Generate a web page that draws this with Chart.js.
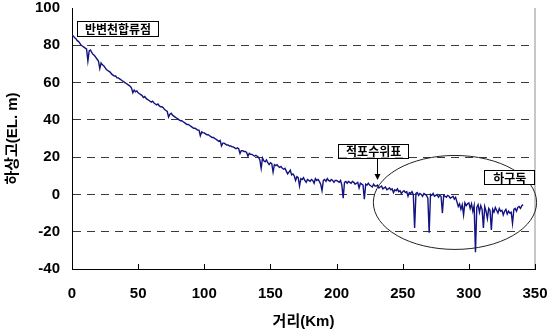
<!DOCTYPE html>
<html>
<head>
<meta charset="utf-8">
<script src="https://cdn.jsdelivr.net/npm/chart.js@4.4.1/dist/chart.umd.min.js"></script>
<style>
  html, body { margin: 0; padding: 0; background: #fff; }
  #wrap { width: 549px; height: 333px; }
</style>
</head>
<body>
<div id="wrap"><canvas id="profile"></canvas></div>
<script>
// 하상고 (EL. m), one reading per km from 0 km to 341 km
const bedElevation = [
  85.5, 85.0, 84.0, 83.5, 82.5, 82.0, 81.0, 80.0, 79.5, 79.0,
  78.5, 78.0, 71.5, 77.0, 77.5, 76.0, 75.0, 74.5, 73.5, 72.5,
  71.5, 67.5, 70.5, 69.5, 69.0, 68.0, 67.0, 66.5, 66.0, 65.5,
  64.5, 64.0, 63.5, 63.5, 62.5, 62.5, 62.0, 61.5, 61.0, 60.5,
  60.0, 59.5, 59.0, 58.5, 58.0, 57.0, 54.5, 56.0, 55.0, 55.5,
  54.5, 54.0, 53.5, 53.0, 52.0, 52.5, 51.5, 51.0, 50.5, 50.0,
  49.5, 50.0, 49.0, 48.5, 48.0, 48.5, 47.5, 47.0, 47.0, 46.5,
  45.5, 45.0, 44.5, 41.5, 43.0, 43.5, 42.5, 42.0, 41.5, 41.0,
  40.5, 40.0, 39.5, 39.5, 39.0, 38.5, 38.0, 37.5, 37.5, 37.0,
  36.5, 36.0, 35.5, 35.5, 35.0, 34.5, 34.5, 31.5, 33.5, 33.0,
  33.0, 32.5, 32.0, 32.0, 31.5, 31.0, 30.5, 30.5, 30.0, 29.5,
  29.0, 28.5, 29.0, 26.0, 27.5, 27.5, 27.0, 26.5, 26.5, 26.0,
  26.0, 25.5, 25.5, 25.0, 24.5, 25.0, 24.5, 22.0, 23.5, 23.5,
  23.0, 23.0, 22.5, 20.5, 22.0, 21.5, 21.5, 21.0, 20.5, 21.0,
  20.5, 20.0, 18.5, 14.0, 19.5, 18.0, 17.5, 18.5, 17.0, 16.0,
  17.0, 16.5, 12.0, 16.0, 15.5, 16.0, 15.0, 14.5, 15.0, 14.0,
  13.5, 14.0, 12.5, 11.0, 12.0, 13.0, 10.5, 11.0, 10.0, 7.5,
  9.5, 9.0, 4.5, 8.5, 8.0, 9.0, 7.5, 6.5, 8.0, 7.5,
  7.0, 8.0, 7.5, 6.0, 8.5, 7.5, 8.0, 7.0, 5.5, 2.0,
  7.5, 8.0, 7.0, 8.5, 7.5, 7.0, 8.0, 7.5, 6.5, 7.5,
  7.5, 7.0, 6.5, 7.5, 5.0, -2.0, 6.5, 7.0, 6.0, 7.0,
  6.5, 6.0, 7.0, 6.5, 5.5, 6.0, 6.5, 3.5, 6.0, 5.5,
  5.0, -2.5, 5.5, 5.0, 6.0, 5.0, 4.5, 4.0, 5.5, 4.5,
  4.5, 5.0, 3.5, 4.0, 4.5, 3.0, 3.5, 4.0, 2.5, 3.0,
  3.5, 2.5, 3.0, 1.0, 2.5, 2.0, 3.0, 1.5, 2.0, 0.5,
  1.5, 2.0, 1.0, 1.5, -1.0, 1.0, 0.5, 1.5, 0.0, -18.0,
  0.5, 1.0, -0.5, 0.5, 0.0, -1.0, 0.5, 0.0, -0.5, -2.0,
  -20.5, 0.0, -0.5, 0.5, -1.0, -0.5, 0.0, -1.5, -0.5, -1.0,
  -10.0, -0.5, -1.0, -1.5, -0.5, -1.0, -2.0, -1.5, -1.0, -2.5,
  -1.5, -4.0, -6.5, -5.0, -8.0, -5.5, -11.0, -4.5, -6.0, -5.0,
  -4.5, -7.5, -5.0, -9.0, -6.0, -31.0, -7.0, -5.5, -9.5, -6.0,
  -8.0, -18.0, -6.5, -9.0, -13.0, -7.5, -8.5, -19.0, -8.0, -9.5,
  -7.0, -8.5, -10.0, -7.5, -9.0, -8.5, -11.0, -9.0, -8.0, -10.5,
  -9.0, -10.0, -9.5, -15.5, -8.0, -7.5, -9.0, -7.0, -6.5, -7.5,
  -6.0, -5.5
];
const distanceKm = bedElevation.map((_, i) => i);

const xTitle = '거리(Km)';
const yTitle = '하상고(EL. m)';
const xRange = [0, 350];
const yRange = [-40, 100];

// callouts drawn on the chart
const labelJunction = '반변천합류점';
const labelGauge = '적포수위표';
const labelBarrage = '하구둑';

const FONT = "'Liberation Sans', Arial, 'Noto Sans CJK KR', sans-serif";
const KFONT = "'Noto Sans CJK KR', 'Liberation Sans', sans-serif";

function boxLabel(ctx, text, left, top, w, h) {
  ctx.fillStyle = '#fff';
  ctx.fillRect(left, top, w, h);
  ctx.strokeStyle = '#000';
  ctx.lineWidth = 1;
  ctx.strokeRect(Math.round(left) + 0.5, Math.round(top) + 0.5, w, h);
  ctx.fillStyle = '#000';
  ctx.font = 'bold 12px ' + KFONT;
  ctx.textAlign = 'center';
  ctx.textBaseline = 'middle';
  ctx.fillText(text, left + w / 2 + 0.5, top + h / 2 + 1);
}

const markup = {
  id: 'markup',
  afterDraw(chart) {
    const { ctx, chartArea: a, scales: { x, y } } = chart;
    ctx.save();

    // right frame
    ctx.strokeStyle = '#b4b4b4';
    ctx.lineWidth = 1.5;
    ctx.beginPath();
    ctx.moveTo(a.right, a.top);
    ctx.lineTo(a.right, a.bottom);
    ctx.stroke();

    // inward tick marks on the distance axis
    ctx.strokeStyle = '#000';
    ctx.lineWidth = 1;
    x.ticks.forEach(t => {
      const px = Math.round(x.getPixelForValue(t.value)) + 0.5;
      ctx.beginPath();
      ctx.moveTo(px, a.bottom);
      ctx.lineTo(px, a.bottom - 5);
      ctx.stroke();
    });

    // ellipse around the lower reach
    const cx = x.getPixelForValue(289.5), cy = y.getPixelForValue(-4.3);
    const rx = x.getPixelForValue(289.5 + 61.7) - cx;
    const ry = y.getPixelForValue(-4.3) - y.getPixelForValue(-4.3 + 25.2);
    ctx.strokeStyle = '#222';
    ctx.lineWidth = 1;
    ctx.beginPath();
    ctx.ellipse(cx, cy, rx, ry, 0, 0, Math.PI * 2);
    ctx.stroke();

    // gauge arrow
    const ax = Math.round(x.getPixelForValue(230.3)) + 0.5;
    const ay0 = y.getPixelForValue(19.7), ay1 = y.getPixelForValue(7.7);
    ctx.strokeStyle = '#000';
    ctx.beginPath();
    ctx.moveTo(ax, ay0);
    ctx.lineTo(ax, ay1 - 4);
    ctx.stroke();
    ctx.fillStyle = '#000';
    ctx.beginPath();
    ctx.moveTo(ax - 3, ay1 - 6);
    ctx.lineTo(ax + 3, ay1 - 6);
    ctx.lineTo(ax, ay1);
    ctx.closePath();
    ctx.fill();

    boxLabel(ctx, labelJunction, x.getPixelForValue(3.8), y.getPixelForValue(92.9), 81, 15);
    boxLabel(ctx, labelGauge, x.getPixelForValue(201.2), y.getPixelForValue(27.3), 70, 14);
    boxLabel(ctx, labelBarrage, x.getPixelForValue(311.6), y.getPixelForValue(13), 50, 14);

    ctx.restore();
  }
};

new Chart(document.getElementById('profile'), {
  type: 'line',
  data: {
    datasets: [{
      data: distanceKm.map((d, i) => ({ x: d, y: bedElevation[i] })),
      borderColor: '#121282',
      borderWidth: 1.4,
      pointRadius: 0,
      tension: 0,
      fill: false,
    }],
  },
  options: {
    responsive: true,
    maintainAspectRatio: false,
    animation: false,
    layout: { padding: { top: 8, right: 14, left: 0, bottom: 0 } },
    plugins: { legend: { display: false }, tooltip: { enabled: false } },
    scales: {
      x: {
        type: 'linear',
        min: xRange[0],
        max: xRange[1],
        afterFit: s => { s.height = 64; s.paddingRight = 0; s.paddingLeft = 0; },
        border: { display: true, color: '#000', width: 1 },
        grid: { display: false, drawTicks: false },
        ticks: {
          stepSize: 50,
          padding: 16,
          color: '#000',
          maxRotation: 0,
          font: { family: FONT, size: 15, weight: 'bold' },
        },
        title: {
          display: true,
          text: xTitle,
          color: '#000',
          padding: { top: 0, bottom: 2 },
          font: { family: FONT, size: 15, weight: 'bold' },
        },
      },
      y: {
        min: yRange[0],
        max: yRange[1],
        afterFit: s => { s.width = 72; s.paddingTop = 0; s.paddingBottom = 0; },
        border: { display: true, color: '#000', width: 1, dash: [8, 6] },
        grid: {
          drawTicks: false,
          color: c => (c.tick.value === yRange[0] || c.tick.value === yRange[1]) ? 'rgba(0,0,0,0)' : '#3a3a3a',
          lineWidth: 1,
        },
        ticks: {
          stepSize: 20,
          padding: 12,
          color: '#000',
          font: { family: FONT, size: 15, weight: 'bold' },
        },
        title: {
          display: true,
          text: yTitle,
          color: '#000',
          padding: { top: 4, bottom: 0 },
          font: { family: FONT, size: 15, weight: 'bold' },
        },
      },
    },
  },
  plugins: [markup],
});
</script>
</body>
</html>
